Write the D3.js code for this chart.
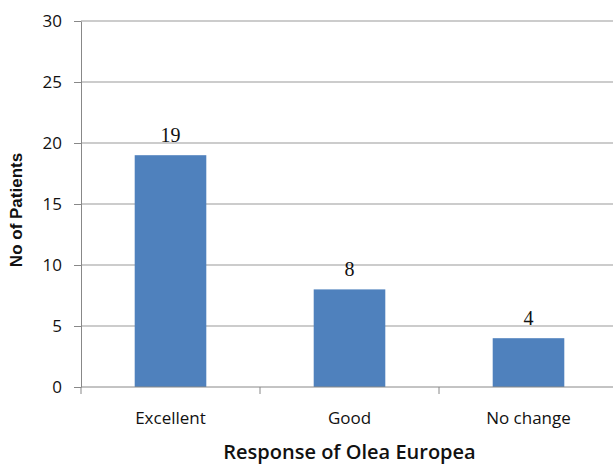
<!DOCTYPE html>
<meta charset="utf-8">
<head>
<style>
body { margin: 0; background: #fff; }
svg { display: block; }
.ytick text { font-family: "Open Sans", sans-serif; font-size: 17px; fill: #111; }
.grid line { stroke: #999; }
</style>
<script src="https://cdn.jsdelivr.net/npm/d3@7"></script>
</head>
<body>
<svg width="613" height="466"></svg>
<script>

var categories = ["Excellent", "Good", "No change"];
var patients = [19, 8, 4];
var yTicks = [0, 5, 10, 15, 20, 25, 30];

var svg = d3.select("svg");

var margin = {left: 81, right: -5, top: 21, bottom: 79};
var width = 613 - margin.left - margin.right,
    height = 466 - margin.top - margin.bottom;

var g = svg.append("g")
    .attr("transform", "translate(" + margin.left + "," + margin.top + ")");

var x = d3.scaleBand()
    .domain(categories)
    .range([0, width]);

var y = d3.scaleLinear()
    .domain([0, 30])
    .range([height, 0]);

// gridlines
g.append("g")
    .attr("class", "grid")
  .selectAll("line")
  .data(yTicks.filter(function(d) { return d > 0; }))
  .enter().append("line")
    .attr("x1", 0)
    .attr("x2", width)
    .attr("y1", function(d) { return y(d); })
    .attr("y2", function(d) { return y(d); });

var barW = x.bandwidth() * 0.4;

g.selectAll(".bar")
  .data(patients)
  .enter().append("rect")
    .attr("class", "bar")
    .attr("x", function(d, i) { return x(categories[i]) + (x.bandwidth() - barW) / 2; })
    .attr("y", function(d) { return y(d); })
    .attr("width", barW)
    .attr("height", function(d) { return height - y(d); })
    .attr("fill", "#4f81bd");

g.selectAll(".value")
  .data(patients)
  .enter().append("text")
    .attr("class", "value")
    .attr("x", function(d, i) { return x(categories[i]) + x.bandwidth() / 2; })
    .attr("y", function(d) { return y(d) - 13; })
    .attr("text-anchor", "middle")
    .attr("font-family", "'Liberation Serif', 'DejaVu Serif', serif")
    .attr("font-size", 20)
    .attr("fill", "#111")
    .text(function(d) { return d; });

// y axis
var yAxis = g.append("g")
    .attr("class", "ytick")
    .call(d3.axisLeft(y).tickValues(yTicks).tickSize(7).tickPadding(12).tickSizeOuter(0));
yAxis.selectAll("line, path").attr("stroke", "#888");
yAxis.selectAll("text").attr("font-family", null).attr("font-size", null);

// x axis: ticks on band boundaries
var xAxisG = g.append("g")
    .attr("transform", "translate(0," + height + ")");
xAxisG.append("line")
    .attr("x1", 0).attr("x2", width)
    .attr("stroke", "#888");
xAxisG.selectAll(".xtick")
  .data(categories)
  .enter().append("line")
    .attr("x1", function(d) { return x(d); })
    .attr("x2", function(d) { return x(d); })
    .attr("y1", 0).attr("y2", 7)
    .attr("stroke", "#888");
xAxisG.selectAll(".xlabel")
  .data(categories)
  .enter().append("text")
    .attr("x", function(d) { return x(d) + x.bandwidth() / 2; })
    .attr("y", 37)
    .attr("text-anchor", "middle")
    .attr("font-family", "'Open Sans', sans-serif")
    .attr("font-size", 17)
    .attr("fill", "#111")
    .text(function(d) { return d; });

svg.append("text")
    .attr("x", margin.left + width / 2)
    .attr("y", 459)
    .attr("text-anchor", "middle")
    .attr("font-family", "'Open Sans', sans-serif")
    .attr("font-weight", 600)
    .attr("font-size", 20)
    .attr("fill", "#111")
    .text("Response of Olea Europea");

svg.append("text")
    .attr("transform", "translate(22," + (margin.top + height / 2 + 6) + ") rotate(-90)")
    .attr("text-anchor", "middle")
    .attr("font-family", "'Liberation Sans', Arial, sans-serif")
    .attr("font-weight", "bold")
    .attr("font-size", 17)
    .attr("fill", "#111")
    .text("No of Patients");

</script>
</body>
